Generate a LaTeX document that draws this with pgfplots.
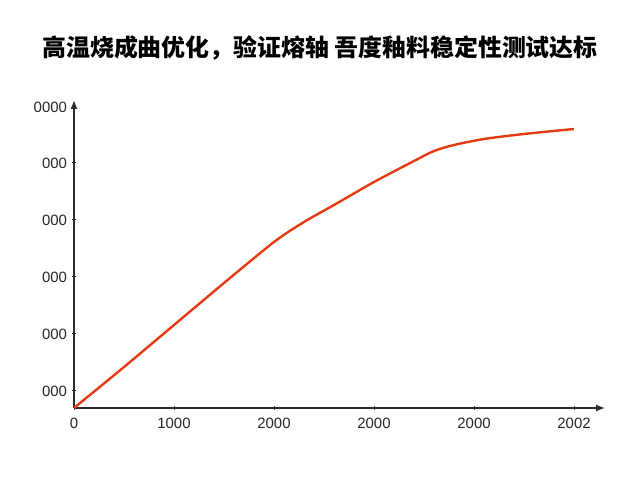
\documentclass[border=0pt]{standalone}
\usepackage{fontspec}
\setmainfont{Liberation Sans}
\newfontfamily\cjk{Noto Sans CJK SC}
\usepackage{pgfplots}
\pgfplotsset{compat=1.18}
\usetikzlibrary{arrows.meta}
\definecolor{curvered}{HTML}{E63A12}
\definecolor{axisgray}{HTML}{2A2A2A}

\begin{document}
\begin{tikzpicture}
\path[use as bounding box] (0,0) rectangle (640bp,480bp);

\node[font=\cjk\bfseries\fontsize{24}{24}\selectfont] at (320bp,432bp)
  {高温烧成曲优化，验证熔轴 吾度釉料稳定性测试达标};

\begin{axis}[
    at={(74bp,72bp)}, anchor=south west,
    scale only axis,
    width=531bp, height=308bp,
    xmin=0, xmax=5310,
    ymin=0, ymax=308,
    axis lines=left,
    axis line style={axisgray, line width=1.3bp, -{Latex[length=9bp,width=7bp]}},
    tick style={axisgray, line width=1bp},
    tick align=center,
    major tick length=4bp,
    xtick={0,1000,2000,3000,4000,5000},
    xticklabels={0,1000,2000,2000,2000,2002},
    ytick={17,74,131,188,245,301},
    yticklabels={000,000,000,000,000,0000},
    ticklabel style={font=\fontsize{15}{15}\selectfont, text=black!85},
    xticklabel style={yshift=-5bp},
    yticklabel style={xshift=-1.5bp},
    /pgf/number format/assume math mode=true,
    clip=false]
\addplot[smooth, color=curvered, line width=2.4bp] coordinates {
    (0,0)
    (500,41)
    (1000,83)
    (1500,125)
    (2000,166)
    (2300,186)
    (2600,203)
    (3000,226)
    (3400,247)
    (3600,257)
    (3800,263)
    (4100,269)
    (4500,274)
    (5000,279)
};
\end{axis}
\end{tikzpicture}
\end{document}
